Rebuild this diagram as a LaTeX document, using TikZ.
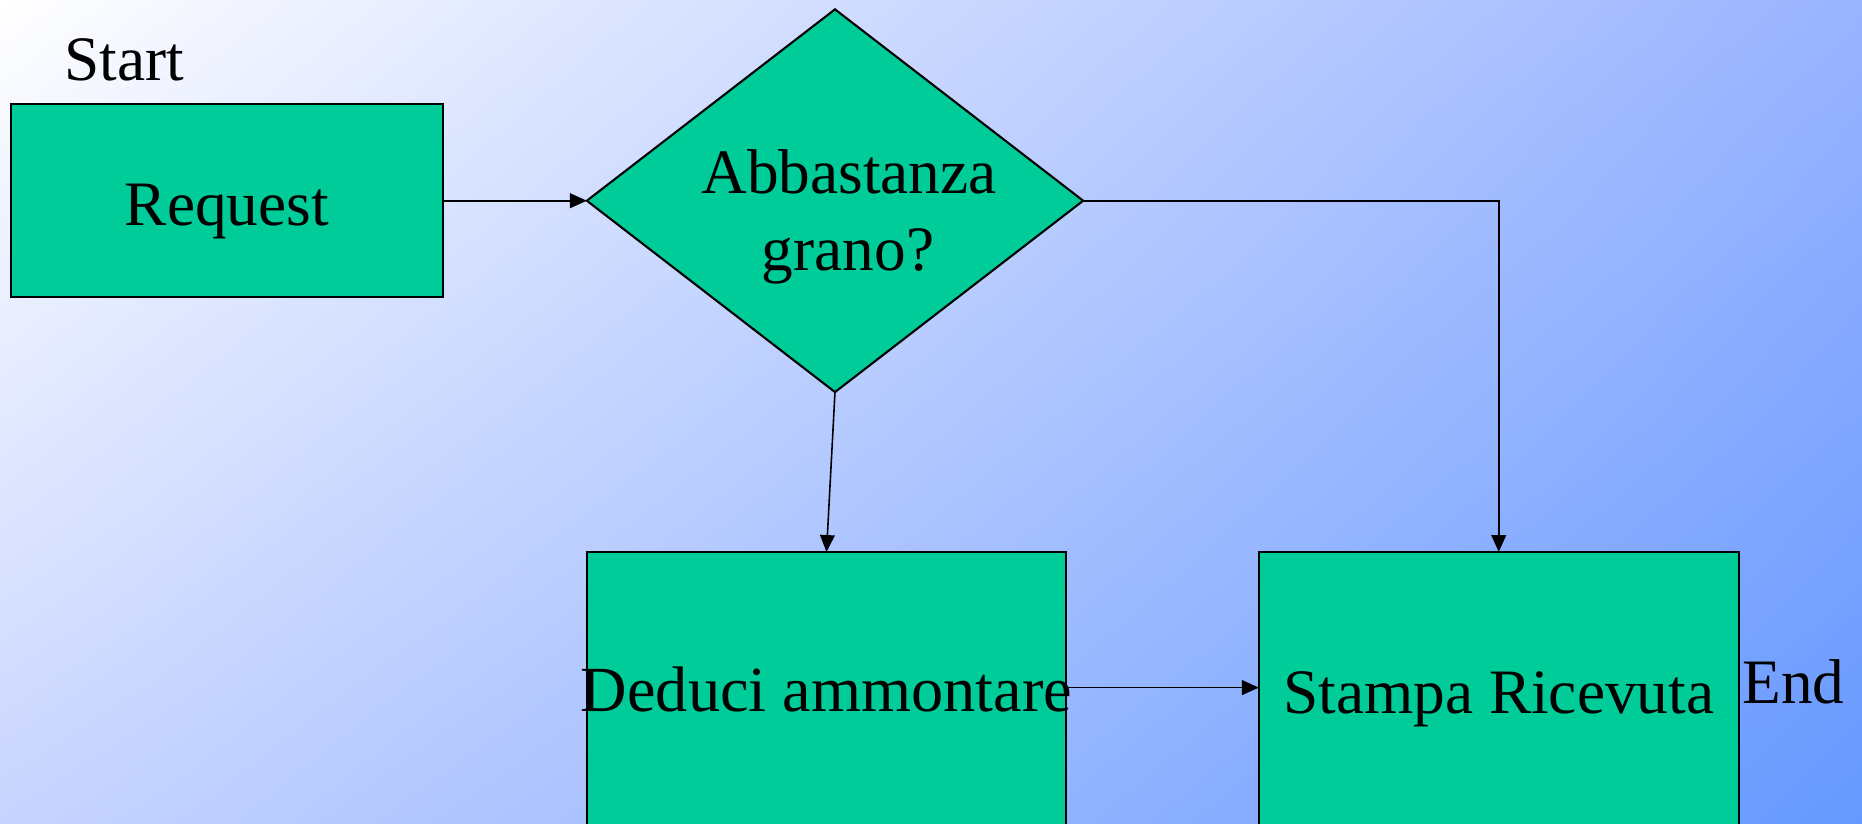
\documentclass[tikz,border=0pt]{standalone}
\usepackage{fontspec}
\setmainfont{Liberation Serif}
\usetikzlibrary{arrows.meta,shapes.geometric,shadings}
\definecolor{boxfill}{HTML}{00CC99}
\definecolor{bgTR}{HTML}{99B3FF}
\definecolor{bgBL}{HTML}{C8D4FF}
\definecolor{bgBR}{HTML}{6699FF}
\begin{document}
\begin{tikzpicture}[x=0.01cm,y=-0.01cm,
  box/.style={draw=black,line width=0.6pt,fill=boxfill,inner sep=0pt,outer sep=0pt},
  lbl/.style={inner sep=0pt,outer sep=0pt,font=\fontsize{18}{21.9}\selectfont},
  arr/.style={line width=0.45pt,-{Triangle[length=4.8pt,width=4.2pt]}}]
\useasboundingbox (0,0) rectangle (1862,823);
\clip (0,0) rectangle (1862,823);
\shade[upper left=white,upper right=bgTR,lower left=bgBL,lower right=bgBR] (0,0) rectangle (1862,823);
% shapes
\node[box,rectangle,minimum width=4.323cm,minimum height=1.925cm] (req) at (226.9,200.7) {};
\node[box,diamond,minimum width=4.96cm,minimum height=3.825cm] (dia) at (835,200.7) {};
\node[box,rectangle,minimum width=4.79cm,minimum height=2.8cm] (ded) at (826.5,692) {};
\node[box,rectangle,minimum width=4.795cm,minimum height=2.8cm] (stp) at (1498.75,692) {};
% texts
\node[lbl,anchor=base west] (start) at (64.3,80.7) {Start};
\node[lbl,anchor=base] (reqt) at (226.9,225) {Request};
\node[lbl,anchor=base] (diat1) at (849,193.6) {Abbastanza};
\node[lbl,anchor=base] (diat2) at (848,270.7) {grano?};
\node[lbl,anchor=base,font=\fontsize{18.3}{21.9}\selectfont] (dedt) at (826.5,711.7) {Deduci ammontare};
\node[lbl,anchor=base] (stpt) at (1498.75,713) {Stampa Ricevuta};
\node[lbl,anchor=base west] (endt) at (1742.6,703) {End};
% connectors
\draw[arr] (req.east) -- (dia.west);
\draw[arr] (dia.south) -- (ded.north);
\draw[arr] (dia.east) -| (stp.north);
\draw[arr] ([yshift=0.044cm]ded.east) -- ([yshift=0.044cm]stp.west);
\end{tikzpicture}
\end{document}
